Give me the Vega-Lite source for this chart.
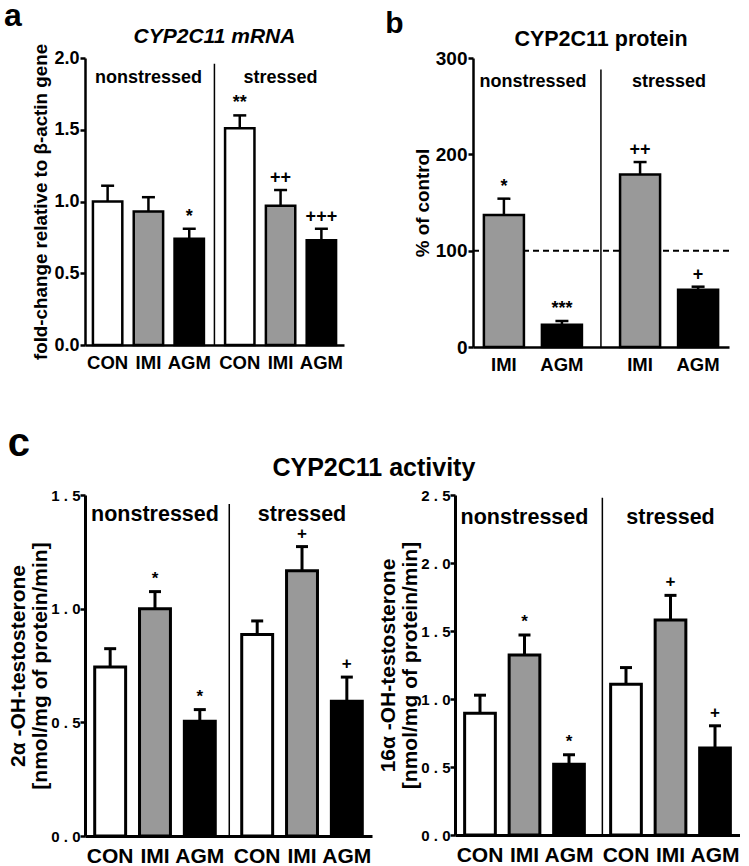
{
  "$schema": "https://vega.github.io/schema/vega-lite/v6.json",
  "background": "white",
  "padding": {"left": 3, "top": 0, "right": 0, "bottom": 0},
  "config": {
    "font": "Liberation Sans",
    "view": {"stroke": null},
    "axis": {"domainColor": "black", "domainWidth": 2.5, "tickColor": "black", "tickWidth": 2.5, "tickSize": 5, "labelFontWeight": "bold", "labelColor": "black", "titleFontWeight": "bold", "titleColor": "black", "grid": false, "labelPadding": 1},
    "title": {"color": "black", "fontWeight": "bold"},
    "text": {"font": "Liberation Sans", "fontWeight": "bold", "color": "black"}
  },
  "datasets": {
    "mrna": [
      {"group": "nonstressed", "drug": "CON", "value": 1.0, "err": 1.11, "sig": ""},
      {"group": "nonstressed", "drug": "IMI", "value": 0.93, "err": 1.03, "sig": ""},
      {"group": "nonstressed", "drug": "AGM", "value": 0.74, "err": 0.81, "sig": "*"},
      {"group": "stressed", "drug": "CON", "value": 1.51, "err": 1.60, "sig": "**"},
      {"group": "stressed", "drug": "IMI", "value": 0.97, "err": 1.08, "sig": "++"},
      {"group": "stressed", "drug": "AGM", "value": 0.73, "err": 0.81, "sig": "+++"}
    ],
    "protein": [
      {"group": "nonstressed", "drug": "IMI", "value": 137, "err": 154, "sig": "*"},
      {"group": "nonstressed", "drug": "AGM", "value": 23, "err": 27, "sig": "***"},
      {"group": "stressed", "drug": "IMI", "value": 179, "err": 192, "sig": "++"},
      {"group": "stressed", "drug": "AGM", "value": 59.5, "err": 62.6, "sig": "+"}
    ],
    "act2a": [
      {"group": "nonstressed", "drug": "CON", "value": 0.743, "err": 0.824, "sig": ""},
      {"group": "nonstressed", "drug": "IMI", "value": 1.0, "err": 1.075, "sig": "*"},
      {"group": "nonstressed", "drug": "AGM", "value": 0.505, "err": 0.556, "sig": "*"},
      {"group": "stressed", "drug": "CON", "value": 0.886, "err": 0.946, "sig": ""},
      {"group": "stressed", "drug": "IMI", "value": 1.167, "err": 1.273, "sig": "+"},
      {"group": "stressed", "drug": "AGM", "value": 0.593, "err": 0.699, "sig": "+"}
    ],
    "act16a": [
      {"group": "nonstressed", "drug": "CON", "value": 0.896, "err": 1.028, "sig": ""},
      {"group": "nonstressed", "drug": "IMI", "value": 1.324, "err": 1.471, "sig": "*"},
      {"group": "nonstressed", "drug": "AGM", "value": 0.521, "err": 0.59, "sig": "*"},
      {"group": "stressed", "drug": "CON", "value": 1.109, "err": 1.231, "sig": ""},
      {"group": "stressed", "drug": "IMI", "value": 1.581, "err": 1.762, "sig": "+"},
      {"group": "stressed", "drug": "AGM", "value": 0.639, "err": 0.803, "sig": "+"}
    ]
  },
  "vconcat": [
    {
      "hconcat": [
        {
          "title": {"text": "a", "anchor": "start", "fontSize": 32, "dx": -28, "offset": -7},
          "vconcat": [
            {
              "width": 259, "height": 287,
              "data": {"name": "mrna"},
              "title": {"text": "CYP2C11 mRNA", "fontStyle": "italic", "fontSize": 21, "offset": -4},
              "layer": [
                {
                  "transform": [{"filter": "datum.drug == 'CON' && datum.group == 'nonstressed'"}],
                  "mark": {"type": "rule", "strokeWidth": 1.5, "color": "black", "xOffset": 10.5},
                  "encoding": {
                    "x": {"datum": "nonstressed", "type": "nominal", "bandPosition": 1},
                    "y": {"datum": 1.96, "type": "quantitative"},
                    "y2": {"datum": 0}
                  }
                },
                {
                  "mark": {"type": "bar", "stroke": "black", "strokeWidth": 2.5},
                  "encoding": {
                    "x": {"field": "group", "type": "nominal", "scale": {"domain": ["nonstressed", "stressed"], "paddingInner": 0.16, "paddingOuter": 0.06}, "axis": {"labels": false, "ticks": false, "title": null}},
                    "xOffset": {"field": "drug", "type": "nominal", "scale": {"domain": ["CON", "IMI", "AGM"], "paddingInner": 0.28, "paddingOuter": 0}},
                    "y": {"field": "value", "type": "quantitative", "scale": {"domain": [0, 2], "nice": false}, "axis": {"values": [0, 0.5, 1, 1.5, 2], "format": ".1f", "title": "fold-change relative to β-actin gene", "labelFontSize": 18, "titleFontSize": 18.8, "titlePadding": 3}},
                    "fill": {"field": "drug", "type": "nominal", "scale": {"domain": ["CON", "IMI", "AGM"], "range": ["white", "#999999", "black"]}, "legend": null}
                  }
                },
                {
                  "mark": {"type": "rule", "strokeWidth": 2.5, "color": "black"},
                  "encoding": {
                    "x": {"field": "group", "type": "nominal"},
                    "xOffset": {"field": "drug", "type": "nominal"},
                    "y": {"field": "value", "type": "quantitative"},
                    "y2": {"field": "err"}
                  }
                },
                {
                  "mark": {"type": "tick", "size": 13, "thickness": 2.5, "color": "black", "opacity": 1},
                  "encoding": {
                    "x": {"field": "group", "type": "nominal"},
                    "xOffset": {"field": "drug", "type": "nominal"},
                    "y": {"field": "err", "type": "quantitative"}
                  }
                },
                {
                  "mark": {"type": "text", "baseline": "bottom", "dy": -3, "fontSize": 18},
                  "encoding": {
                    "x": {"field": "group", "type": "nominal"},
                    "xOffset": {"field": "drug", "type": "nominal"},
                    "y": {"field": "err", "type": "quantitative"},
                    "text": {"field": "sig"}
                  }
                },
                {
                  "transform": [{"filter": "datum.drug == 'IMI'"}],
                  "mark": {"type": "text", "baseline": "middle", "fontSize": 18},
                  "encoding": {
                    "x": {"field": "group", "type": "nominal"},
                    "y": {"datum": 1.86, "type": "quantitative"},
                    "text": {"field": "group"}
                  }
                },
                {
                  "mark": {"type": "text", "baseline": "top", "dy": 9, "fontSize": 18.5},
                  "encoding": {
                    "x": {"field": "group", "type": "nominal"},
                    "xOffset": {"field": "drug", "type": "nominal"},
                    "y": {"datum": 0, "type": "quantitative"},
                    "text": {"field": "drug"}
                  }
                }
              ]
            }
          ]
        },
        {
          "title": {"text": "b", "anchor": "start", "fontSize": 30, "dx": -28, "offset": -10},
          "vconcat": [
            {
              "width": 256, "height": 289,
              "data": {"name": "protein"},
              "title": {"text": "CYP2C11 protein", "fontSize": 21.5, "offset": -1},
              "layer": [
                {
                  "transform": [{"filter": "datum.drug == 'IMI' && datum.group == 'nonstressed'"}],
                  "mark": {"type": "rule", "strokeWidth": 1.5, "color": "black", "xOffset": 19},
                  "encoding": {
                    "x": {"datum": "nonstressed", "type": "nominal", "bandPosition": 1},
                    "y": {"datum": 288, "type": "quantitative"},
                    "y2": {"datum": 0}
                  }
                },
                {
                  "transform": [{"filter": "datum.drug == 'IMI' && datum.group == 'nonstressed'"}],
                  "mark": {"type": "rule", "strokeWidth": 2, "color": "black", "strokeDash": [6, 4]},
                  "encoding": {
                    "y": {"datum": 100, "type": "quantitative"}
                  }
                },
                {
                  "mark": {"type": "bar", "stroke": "black", "strokeWidth": 2.5},
                  "encoding": {
                    "x": {"field": "group", "type": "nominal", "scale": {"domain": ["nonstressed", "stressed"], "paddingInner": 0.28, "paddingOuter": 0.08}, "axis": {"labels": false, "ticks": false, "title": null}},
                    "xOffset": {"field": "drug", "type": "nominal", "scale": {"domain": ["IMI", "AGM"], "paddingInner": 0.31, "paddingOuter": 0}},
                    "y": {"field": "value", "type": "quantitative", "scale": {"domain": [0, 300], "nice": false}, "axis": {"values": [0, 100, 200, 300], "format": "d", "title": "% of control", "labelFontSize": 19, "titleFontSize": 18.8, "titlePadding": 3}},
                    "fill": {"field": "drug", "type": "nominal", "scale": {"domain": ["CON", "IMI", "AGM"], "range": ["white", "#999999", "black"]}, "legend": null}
                  }
                },
                {
                  "mark": {"type": "rule", "strokeWidth": 2.5, "color": "black"},
                  "encoding": {
                    "x": {"field": "group", "type": "nominal"},
                    "xOffset": {"field": "drug", "type": "nominal"},
                    "y": {"field": "value", "type": "quantitative"},
                    "y2": {"field": "err"}
                  }
                },
                {
                  "mark": {"type": "tick", "size": 13, "thickness": 2.5, "color": "black", "opacity": 1},
                  "encoding": {
                    "x": {"field": "group", "type": "nominal"},
                    "xOffset": {"field": "drug", "type": "nominal"},
                    "y": {"field": "err", "type": "quantitative"}
                  }
                },
                {
                  "mark": {"type": "text", "baseline": "bottom", "dy": -3, "fontSize": 18},
                  "encoding": {
                    "x": {"field": "group", "type": "nominal"},
                    "xOffset": {"field": "drug", "type": "nominal"},
                    "y": {"field": "err", "type": "quantitative"},
                    "text": {"field": "sig"}
                  }
                },
                {
                  "transform": [{"filter": "datum.drug == 'IMI'"}],
                  "mark": {"type": "text", "baseline": "middle", "fontSize": 18},
                  "encoding": {
                    "x": {"field": "group", "type": "nominal"},
                    "y": {"datum": 275, "type": "quantitative"},
                    "text": {"field": "group"}
                  }
                },
                {
                  "mark": {"type": "text", "baseline": "top", "dy": 9, "fontSize": 18.5},
                  "encoding": {
                    "x": {"field": "group", "type": "nominal"},
                    "xOffset": {"field": "drug", "type": "nominal"},
                    "y": {"datum": 0, "type": "quantitative"},
                    "text": {"field": "drug"}
                  }
                }
              ]
            }
          ],
          "resolve": {"scale": {"x": "independent", "y": "independent", "xOffset": "independent"}}
        }
      ],
      "spacing": 41,
      "resolve": {"scale": {"x": "independent", "y": "independent", "xOffset": "independent"}}
    },
    {
      "title": {"text": "c", "anchor": "start", "fontSize": 40, "dx": 0, "offset": -8},
      "vconcat": [
        {
          "title": {"text": "CYP2C11 activity", "fontSize": 25, "anchor": "middle", "offset": 7},
          "hconcat": [
            {
              "width": 287, "height": 341,
              "data": {"name": "act2a"},
              "layer": [
                {
                  "transform": [{"filter": "datum.drug == 'CON' && datum.group == 'nonstressed'"}],
                  "mark": {"type": "rule", "strokeWidth": 1.5, "color": "black", "xOffset": 14},
                  "encoding": {
                    "x": {"datum": "nonstressed", "type": "nominal", "bandPosition": 1},
                    "y": {"datum": 1.46, "type": "quantitative"},
                    "y2": {"datum": 0}
                  }
                },
                {
                  "mark": {"type": "bar", "stroke": "black", "strokeWidth": 3},
                  "encoding": {
                    "x": {"field": "group", "type": "nominal", "scale": {"domain": ["nonstressed", "stressed"], "paddingInner": 0.18, "paddingOuter": 0.066}, "axis": {"labels": false, "ticks": false, "title": null, "domainWidth": 3}},
                    "xOffset": {"field": "drug", "type": "nominal", "scale": {"domain": ["CON", "IMI", "AGM"], "paddingInner": 0.31, "paddingOuter": 0}},
                    "y": {"field": "value", "type": "quantitative", "scale": {"domain": [0, 1.5], "nice": false}, "axis": {"values": [0, 0.5, 1, 1.5], "labelExpr": "replace(format(datum.value, '.1f'), '.', ' . ')", "title": ["2α -OH-testosterone", "[nmol/mg of protein/min]"], "labelFontSize": 15, "labelPadding": 0, "titleFontSize": 21, "titleLineHeight": 22, "titlePadding": 0, "domainWidth": 3, "tickSize": 5}},
                    "fill": {"field": "drug", "type": "nominal", "scale": {"domain": ["CON", "IMI", "AGM"], "range": ["white", "#999999", "black"]}, "legend": null}
                  }
                },
                {
                  "mark": {"type": "rule", "strokeWidth": 3, "color": "black"},
                  "encoding": {
                    "x": {"field": "group", "type": "nominal"},
                    "xOffset": {"field": "drug", "type": "nominal"},
                    "y": {"field": "value", "type": "quantitative"},
                    "y2": {"field": "err"}
                  }
                },
                {
                  "mark": {"type": "tick", "size": 12, "thickness": 3, "color": "black", "opacity": 1},
                  "encoding": {
                    "x": {"field": "group", "type": "nominal"},
                    "xOffset": {"field": "drug", "type": "nominal"},
                    "y": {"field": "err", "type": "quantitative"}
                  }
                },
                {
                  "mark": {"type": "text", "baseline": "bottom", "dy": -4, "fontSize": 17},
                  "encoding": {
                    "x": {"field": "group", "type": "nominal"},
                    "xOffset": {"field": "drug", "type": "nominal"},
                    "y": {"field": "err", "type": "quantitative"},
                    "text": {"field": "sig"}
                  }
                },
                {
                  "transform": [{"filter": "datum.drug == 'IMI'"}],
                  "mark": {"type": "text", "baseline": "middle", "fontSize": 21.5},
                  "encoding": {
                    "x": {"field": "group", "type": "nominal"},
                    "y": {"datum": 1.41, "type": "quantitative"},
                    "text": {"field": "group"}
                  }
                },
                {
                  "mark": {"type": "text", "baseline": "top", "dy": 10, "fontSize": 21},
                  "encoding": {
                    "x": {"field": "group", "type": "nominal"},
                    "xOffset": {"field": "drug", "type": "nominal"},
                    "y": {"datum": 0, "type": "quantitative"},
                    "text": {"field": "drug"}
                  }
                }
              ]
            },
            {
              "width": 285, "height": 340,
              "data": {"name": "act16a"},
              "layer": [
                {
                  "transform": [{"filter": "datum.drug == 'CON' && datum.group == 'nonstressed'"}],
                  "mark": {"type": "rule", "strokeWidth": 1.5, "color": "black", "xOffset": 18},
                  "encoding": {
                    "x": {"datum": "nonstressed", "type": "nominal", "bandPosition": 1},
                    "y": {"datum": 2.48, "type": "quantitative"},
                    "y2": {"datum": 0}
                  }
                },
                {
                  "mark": {"type": "bar", "stroke": "black", "strokeWidth": 3},
                  "encoding": {
                    "x": {"field": "group", "type": "nominal", "scale": {"domain": ["nonstressed", "stressed"], "paddingInner": 0.18, "paddingOuter": 0.066}, "axis": {"labels": false, "ticks": false, "title": null, "domainWidth": 3}},
                    "xOffset": {"field": "drug", "type": "nominal", "scale": {"domain": ["CON", "IMI", "AGM"], "paddingInner": 0.31, "paddingOuter": 0}},
                    "y": {"field": "value", "type": "quantitative", "scale": {"domain": [0, 2.5], "nice": false}, "axis": {"values": [0, 0.5, 1, 1.5, 2, 2.5], "labelExpr": "replace(format(datum.value, '.1f'), '.', ' . ')", "title": ["16α -OH-testosterone", "[nmol/mg of protein/min]"], "labelFontSize": 15, "labelPadding": 0, "titleFontSize": 21, "titleLineHeight": 22, "titlePadding": 0, "domainWidth": 3, "tickSize": 5}},
                    "fill": {"field": "drug", "type": "nominal", "scale": {"domain": ["CON", "IMI", "AGM"], "range": ["white", "#999999", "black"]}, "legend": null}
                  }
                },
                {
                  "mark": {"type": "rule", "strokeWidth": 3, "color": "black"},
                  "encoding": {
                    "x": {"field": "group", "type": "nominal"},
                    "xOffset": {"field": "drug", "type": "nominal"},
                    "y": {"field": "value", "type": "quantitative"},
                    "y2": {"field": "err"}
                  }
                },
                {
                  "mark": {"type": "tick", "size": 12, "thickness": 3, "color": "black", "opacity": 1},
                  "encoding": {
                    "x": {"field": "group", "type": "nominal"},
                    "xOffset": {"field": "drug", "type": "nominal"},
                    "y": {"field": "err", "type": "quantitative"}
                  }
                },
                {
                  "mark": {"type": "text", "baseline": "bottom", "dy": -4, "fontSize": 17},
                  "encoding": {
                    "x": {"field": "group", "type": "nominal"},
                    "xOffset": {"field": "drug", "type": "nominal"},
                    "y": {"field": "err", "type": "quantitative"},
                    "text": {"field": "sig"}
                  }
                },
                {
                  "transform": [{"filter": "datum.drug == 'IMI'"}],
                  "mark": {"type": "text", "baseline": "middle", "fontSize": 21.5},
                  "encoding": {
                    "x": {"field": "group", "type": "nominal"},
                    "y": {"datum": 2.33, "type": "quantitative"},
                    "text": {"field": "group"}
                  }
                },
                {
                  "mark": {"type": "text", "baseline": "top", "dy": 10, "fontSize": 21},
                  "encoding": {
                    "x": {"field": "group", "type": "nominal"},
                    "xOffset": {"field": "drug", "type": "nominal"},
                    "y": {"datum": 0, "type": "quantitative"},
                    "text": {"field": "drug"}
                  }
                }
              ]
            }
          ],
          "spacing": 5,
          "resolve": {"scale": {"x": "independent", "y": "independent", "xOffset": "independent"}}
        }
      ],
      "resolve": {"scale": {"x": "independent", "y": "independent", "xOffset": "independent"}}
    }
  ],
  "spacing": 49,
  "resolve": {"scale": {"x": "independent", "y": "independent", "xOffset": "independent"}}
}
